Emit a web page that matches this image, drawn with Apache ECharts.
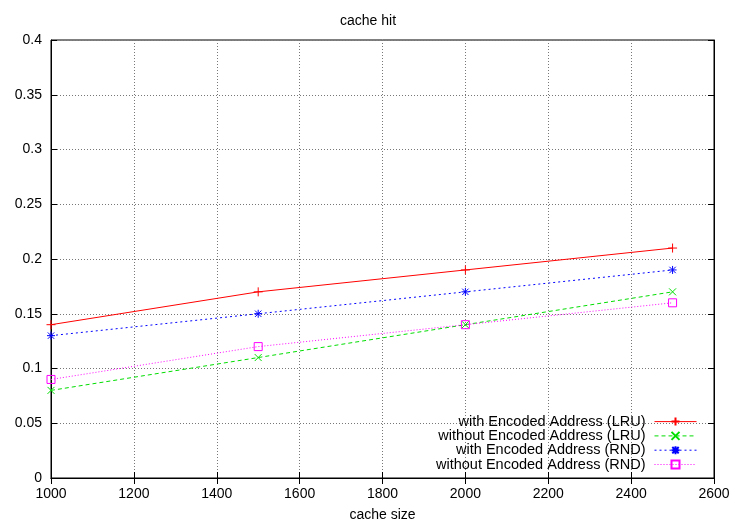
<!DOCTYPE html>
<html>
<head>
<meta charset="utf-8">
<script src="https://cdn.jsdelivr.net/npm/echarts@6/dist/echarts.min.js"></script>
<style>html,body{margin:0;padding:0;background:#fff}#c{width:736px;height:524px}</style>
</head>
<body>
<div id="c"></div>
<script>
const cacheSizes = [1000, 1500, 2000, 2500];
const withLRU = [0.14, 0.17, 0.19, 0.21];
const withoutLRU = [0.08, 0.11, 0.14, 0.17];
const withRND = [0.13, 0.15, 0.17, 0.19];
const withoutRND = [0.09, 0.12, 0.14, 0.16];
const seriesNames = ['with Encoded Address (LRU)', 'without Encoded Address (LRU)', 'with Encoded Address (RND)', 'without Encoded Address (RND)'];

const pair = arr => cacheSizes.map((x, i) => [x, arr[i]]);
const FONT = 'Liberation Sans, Arial, sans-serif';
const plus = 'path://M0,5L10,5M5,0L5,10';
const cross = 'path://M0,0L10,10M10,0L0,10';
const star = 'path://M0,5L10,5M5,0L5,10M1,1L9,9M9,1L1,9';
const square = 'path://M0,0L10,0L10,10L0,10Z';

function mk(name, data, color, type, symbol, size, fill) {
  return {
    name, type: 'line', data: pair(data), symbol, symbolSize: size,
    showAllSymbol: true,
    lineStyle: { color, width: 1, type },
    itemStyle: { color: fill || color, borderColor: color, borderWidth: 1 },
    emphasis: { disabled: true },
    animation: false
  };
}

const chart = echarts.init(document.getElementById('c'));
chart.setOption({
  animation: false,
  title: { text: 'cache hit', left: 'center', top: 9, textStyle: { fontFamily: FONT, fontSize: 14, fontWeight: 'normal', color: '#000' } },
  grid: { left: 51, right: 22, top: 40, bottom: 46, show: true, borderColor: '#000', borderWidth: 1, outerBoundsMode: 'none', containLabel: false },
  legend: {
    orient: 'vertical', right: 39, bottom: 52, align: 'right', itemWidth: 42, itemHeight: 10, itemGap: -0.7,
    padding: 0,
    lineStyle: { width: 1 },
    textStyle: { fontFamily: FONT, fontSize: 14.5, color: '#000', padding: [0, 4, 0, 0] },
    data: seriesNames
  },
  xAxis: [{
    type: 'value', min: 1000, max: 2600, interval: 200,
    name: 'cache size', nameLocation: 'middle', nameGap: 30,
    nameTextStyle: { fontFamily: FONT, fontSize: 14, color: '#000' },
    axisLine: { show: true, lineStyle: { color: '#000' } },
    axisTick: { show: true, inside: true, length: 6, lineStyle: { color: '#000' } },
    axisLabel: { fontFamily: FONT, fontSize: 14, color: '#000', margin: 9, formatter: v => String(v) },
    splitLine: { show: true, lineStyle: { color: '#777', type: [1, 2], width: 1 } }
  }, {
    type: 'value', min: 1000, max: 2600, interval: 200, position: 'top',
    axisLine: { show: true, lineStyle: { color: '#000' } },
    axisTick: { show: true, inside: true, length: 6, lineStyle: { color: '#000' } },
    axisLabel: { show: false }, splitLine: { show: false }
  }],
  yAxis: [{
    type: 'value', min: 0, max: 0.4, interval: 0.05,
    axisLine: { show: true, lineStyle: { color: '#000' } },
    axisTick: { show: true, inside: true, length: 6, lineStyle: { color: '#000' } },
    axisLabel: { fontFamily: FONT, fontSize: 14, color: '#000', margin: 9 },
    splitLine: { show: true, lineStyle: { color: '#777', type: [1, 2], width: 1 } }
  }, {
    type: 'value', min: 0, max: 0.4, interval: 0.05, position: 'right',
    axisLine: { show: true, lineStyle: { color: '#000' } },
    axisTick: { show: true, inside: true, length: 6, lineStyle: { color: '#000' } },
    axisLabel: { show: false }, splitLine: { show: false }
  }],
  series: [
    mk(seriesNames[0], withLRU, '#ff0000', 'solid', plus, 9),
    mk(seriesNames[1], withoutLRU, '#00dd00', [4, 3], cross, 7),
    mk(seriesNames[2], withRND, '#0000ff', [2, 3], star, 8),
    mk(seriesNames[3], withoutRND, '#ff00ff', [1, 2], square, 8, 'rgba(255,255,255,0)')
  ]
});
</script>
</body>
</html>
